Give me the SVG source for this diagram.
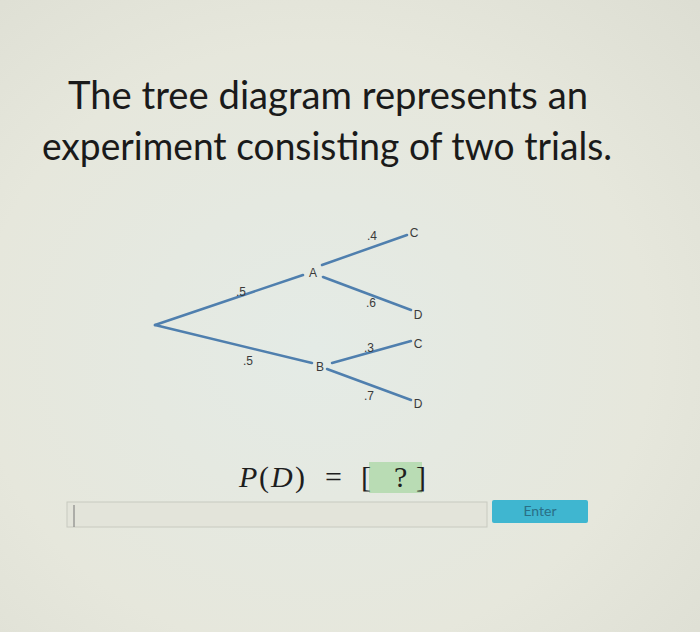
<svg xmlns="http://www.w3.org/2000/svg" width="700" height="632" viewBox="0 0 700 632">
<defs>
<radialGradient id="bg" cx="0.45" cy="0.55" r="0.8">
<stop offset="0" stop-color="#e4ebe6"/>
<stop offset="0.6" stop-color="#e6e7dc"/>
<stop offset="1" stop-color="#dcddd2"/>
</radialGradient>
<style>
.title{font-family:Lato,"Open Sans","Liberation Sans",sans-serif;font-size:38px;fill:#1a1a1a}
.edge{stroke:#4f7fae;stroke-width:2.5;fill:none;stroke-linecap:round}
.lbl{font-family:"Liberation Sans",Arial,sans-serif;font-size:12px;fill:#3a3a3a}
.node{font-family:"Liberation Sans",Arial,sans-serif;font-size:12px;fill:#3a3a3a;text-anchor:middle}
.math{font-family:"Liberation Serif","Times New Roman",serif;font-size:30px;fill:#1e1e1e}
.it{font-style:italic}
</style>
</defs>
<rect width="700" height="632" fill="url(#bg)"/>
<text class="title" x="68" y="109" textLength="520" lengthAdjust="spacingAndGlyphs">The tree diagram represents an</text>
<text class="title" x="42" y="160" textLength="570" lengthAdjust="spacingAndGlyphs">experiment consisting of two trials.</text>
<g id="connectors">
<line class="edge" x1="155" y1="325" x2="303" y2="275"/>
<line class="edge" x1="155" y1="325" x2="312" y2="363"/>
<line class="edge" x1="322" y1="265" x2="407" y2="235"/>
<line class="edge" x1="323" y1="277" x2="411" y2="310"/>
<line class="edge" x1="332" y1="363" x2="411" y2="341"/>
<line class="edge" x1="327" y1="369" x2="411" y2="400"/>
</g>
<g id="edge-labels">
<text class="lbl" x="236" y="296">.5</text>
<text class="lbl" x="243" y="365">.5</text>
<text class="lbl" x="367" y="240">.4</text>
<text class="lbl" x="366" y="307">.6</text>
<text class="lbl" x="364" y="352">.3</text>
<text class="lbl" x="364" y="400">.7</text>
</g>
<g id="node-A"><text class="node" x="313" y="277">A</text></g>
<g id="node-B"><text class="node" x="320" y="371">B</text></g>
<g id="node-C1"><text class="node" x="414" y="237">C</text></g>
<g id="node-D1"><text class="node" x="418" y="319">D</text></g>
<g id="node-C2"><text class="node" x="418" y="348">C</text></g>
<g id="node-D2"><text class="node" x="418" y="408">D</text></g>
<g id="equation">
<rect x="369" y="462" width="53" height="31" fill="#b9dcb4"/>
<text class="math it" x="239" y="487">P</text>
<text class="math" x="259" y="487">(</text>
<text class="math it" x="271" y="487">D</text>
<text class="math" x="295" y="487">)</text>
<text class="math" x="325" y="487">=</text>
<text class="math" x="361" y="487">[</text>
<text class="math" x="394" y="487">?</text>
<text class="math" x="416" y="487">]</text>
</g>
<g id="input">
<rect x="67" y="502" width="420" height="25" fill="#e3e4da" stroke="#c8cac0" stroke-width="1"/>
<line x1="74" y1="505" x2="74" y2="527" stroke="#777" stroke-width="1"/>
</g>
<g id="enter-button">
<rect x="492" y="500" width="96" height="23" rx="2" fill="#3fb6d0"/>
<text x="540" y="516" text-anchor="middle" font-family="Lato,'Liberation Sans',sans-serif" font-size="14" fill="#2a6f86">Enter</text>
</g>
</svg>
